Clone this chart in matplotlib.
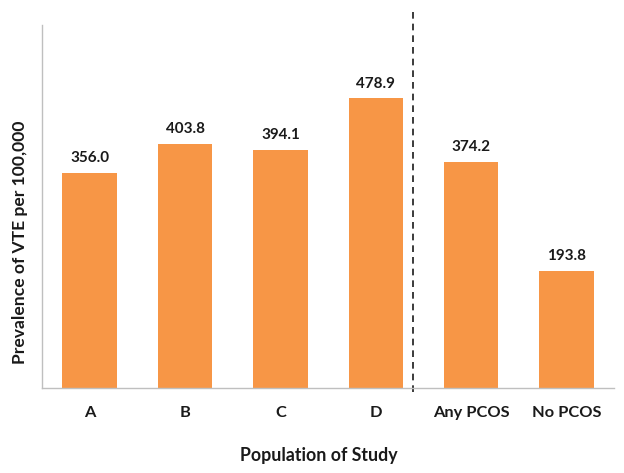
import matplotlib
matplotlib.use('Agg')
import matplotlib.pyplot as plt
import numpy as np

plt.rcParams['font.family'] = ['Lato', 'DejaVu Sans']

# Datos
categorias = ['A', 'B', 'C', 'D', 'Any PCOS', 'No PCOS']
prevalencia = [356.0, 403.8, 394.1, 478.9, 374.2, 193.8]
etiquetas = ['356.0', '403.8', '394.1', '478.9', '374.2', '193.8']

fig = plt.figure(figsize=(6.24, 4.73), dpi=100)
ax = fig.add_axes([0.0673, 0.18, 0.917, 0.767])

x = np.arange(len(categorias))
barras = ax.bar(x, prevalencia, width=0.57, color='#F79646')

for b, txt in zip(barras, etiquetas):
    ax.text(b.get_x() + b.get_width() / 2, b.get_height() + 12, txt,
            ha='center', va='bottom', fontsize=11, fontweight='bold', color='#1a1a1a')

# Linea discontinua entre D y Any PCOS
ax.axvline(3.39, ymin=-0.012, ymax=1.04, color='#1a1a1a', linestyle=(0, (4, 3)),
           linewidth=1.2, clip_on=False)

ax.set_xlim(-0.5, 5.5)
ax.set_ylim(0, 600)
ax.set_xticks(x)
ax.set_xticklabels(categorias, fontsize=11.8, fontweight='bold', color='#1a1a1a')
ax.set_yticks([])
ax.tick_params(axis='x', length=0, pad=13)

for s in ['top', 'right']:
    ax.spines[s].set_visible(False)
for s in ['left', 'bottom']:
    ax.spines[s].set_color('#BFBFBF')
    ax.spines[s].set_linewidth(1.0)

ax.set_ylabel('Prevalence of VTE per 100,000', fontsize=12.6, fontweight='bold',
              color='#1a1a1a')
ax.yaxis.set_label_coords(-0.025, 0.4)
ax.set_xlabel('Population of Study', fontsize=12.8, fontweight='bold',
              color='#1a1a1a')
ax.xaxis.set_label_coords(0.484, -0.162)

plt.savefig('out.png', dpi=100)
